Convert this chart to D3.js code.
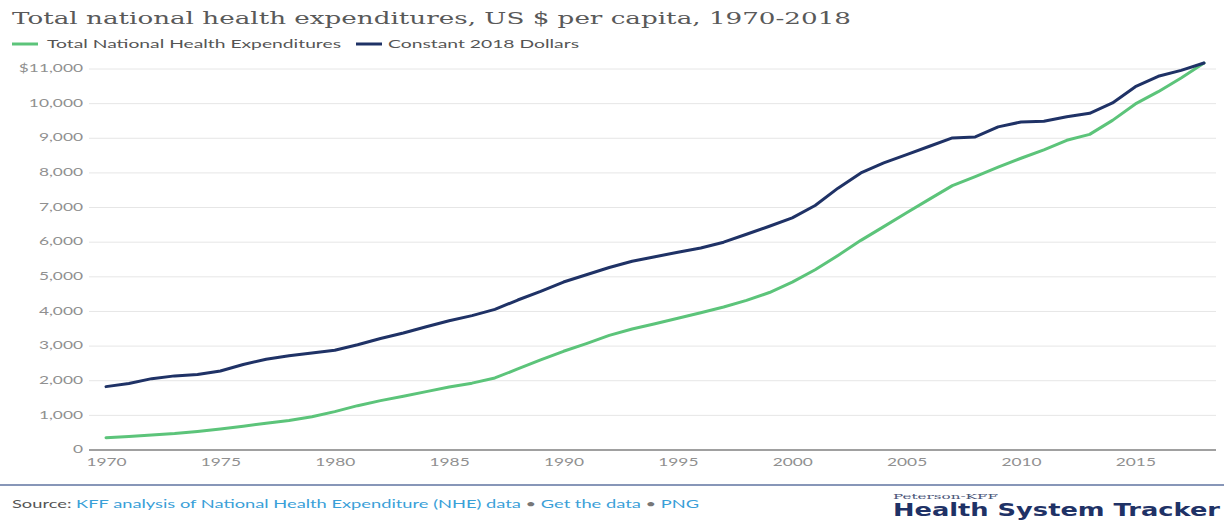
<!DOCTYPE html>
<html>
<head>
<meta charset="utf-8">
<script src="https://cdn.jsdelivr.net/npm/d3@7"></script>
<style>
  html, body { margin: 0; padding: 0; background: #ffffff; }
  svg { display: block; }
</style>
</head>
<body>
<svg id="chart" width="1224" height="521"></svg>
<script>
// Per-capita national health expenditures, 1970-2018
const years = d3.range(1970, 2019);
const nominal = [
  355, 389, 431, 474, 534, 605, 687, 772, 854, 958,
  1108, 1280, 1425, 1553, 1686, 1820, 1930, 2080, 2340, 2600,
  2850, 3072, 3308, 3494, 3647, 3806, 3964, 4127, 4320, 4546,
  4845, 5203, 5618, 6053, 6449, 6848, 7243, 7632, 7894, 8164,
  8423, 8667, 8942, 9113, 9516, 9992, 10345, 10739, 11172
];
const constant2018 = [
  1830, 1920, 2060, 2140, 2180, 2280, 2470, 2620, 2720, 2800,
  2880, 3040, 3220, 3380, 3560, 3730, 3880, 4060, 4330, 4580,
  4850, 5060, 5270, 5450, 5580, 5710, 5830, 6000, 6230, 6460,
  6700, 7060, 7560, 8000, 8290, 8530, 8770, 9010, 9040, 9330,
  9470, 9490, 9620, 9720, 10020, 10490, 10790, 10960, 11172
];
const seriesNames = ["Total National Health Expenditures", "Constant 2018 Dollars"];
const seriesColors = ["#5cc47a", "#1f3266"];
const yTicks = [0, 1000, 2000, 3000, 4000, 5000, 6000, 7000, 8000, 9000, 10000, 11000];
const xTicks = [1970, 1975, 1980, 1985, 1990, 1995, 2000, 2005, 2010, 2015];

const svg = d3.select("#chart");
const SANS = "Lato, 'Open Sans', sans-serif";
const STRETCH = 1.65;

const x = d3.scaleLinear().domain([1970, 2018]).range([106, 1204]);
const y = d3.scaleLinear().domain([0, 11000]).range([450, 69]);
const gridLeft = 89, gridRight = 1216;

// Title
svg.append("text")
  .attr("x", 12).attr("y", 24)
  .attr("font-family", "'DejaVu Serif', serif")
  .attr("font-size", 17)
  .attr("fill", "#595959")
  .attr("textLength", 839)
  .attr("lengthAdjust", "spacingAndGlyphs")
  .text("Total national health expenditures, US $ per capita, 1970-2018");

// Legend
const legendItems = [
  { name: seriesNames[0], color: seriesColors[0], sx: 12, tx: 47, tw: 294 },
  { name: seriesNames[1], color: seriesColors[1], sx: 356, tx: 388, tw: 191 }
];
legendItems.forEach(d => {
  svg.append("line")
    .attr("x1", d.sx).attr("x2", d.sx + 26)
    .attr("y1", 44).attr("y2", 44)
    .attr("stroke", d.color).attr("stroke-width", 3);
  svg.append("text")
    .attr("x", d.tx).attr("y", 48)
    .attr("font-family", SANS).attr("font-size", 11.5)
    .attr("fill", "#555555")
    .attr("textLength", d.tw)
    .attr("lengthAdjust", "spacingAndGlyphs")
    .text(d.name);
});

// Horizontal gridlines
svg.append("g")
  .selectAll("line")
  .data(yTicks.filter(v => v > 0))
  .join("line")
  .attr("x1", gridLeft).attr("x2", gridRight)
  .attr("y1", d => y(d)).attr("y2", d => y(d))
  .attr("stroke", "#e6e6e6").attr("stroke-width", 1);

// Y axis labels
const yAxis = svg.append("g")
  .attr("transform", `translate(${gridLeft},0)`)
  .call(d3.axisLeft(y).tickValues(yTicks).tickSize(0).tickPadding(0)
    .tickFormat(d => d === 11000 ? "$11,000" : d3.format(",")(d)));
yAxis.select(".domain").remove();
yAxis.selectAll("text")
  .attr("x", null).attr("dy", null)
  .attr("font-family", SANS).attr("font-size", 10.5)
  .attr("fill", "#909090")
  .attr("dominant-baseline", "middle")
  .attr("transform", `translate(-6,0) scale(${STRETCH},1)`);

// X axis
const xAxis = svg.append("g")
  .attr("transform", `translate(0,${y(0)})`)
  .call(d3.axisBottom(x).tickValues(xTicks).tickSize(0).tickPadding(0)
    .tickFormat(d3.format("d")));
xAxis.select(".domain").remove();
xAxis.selectAll("text")
  .attr("y", null).attr("dy", null)
  .attr("font-family", SANS).attr("font-size", 10.5)
  .attr("fill", "#909090")
  .attr("transform", `translate(0,16) scale(${STRETCH},1)`);
svg.append("line")
  .attr("x1", gridLeft).attr("x2", gridRight)
  .attr("y1", y(0)).attr("y2", y(0))
  .attr("stroke", "#a0a0a0").attr("stroke-width", 2);

// Series lines
const line = d3.line()
  .x((d, i) => x(years[i]))
  .y(d => y(d))
  .curve(d3.curveLinear);

[nominal, constant2018].forEach((vals, i) => {
  svg.append("path")
    .datum(vals)
    .attr("fill", "none")
    .attr("stroke", seriesColors[i])
    .attr("stroke-width", 3)
    .attr("stroke-linejoin", "round")
    .attr("stroke-linecap", "round")
    .attr("d", line);
});

// Footer rule
svg.append("line")
  .attr("x1", 0).attr("x2", 1224)
  .attr("y1", 485).attr("y2", 485)
  .attr("stroke", "#8796b8").attr("stroke-width", 2);

// Source line
const src = svg.append("text")
  .attr("x", 12).attr("y", 508)
  .attr("font-family", SANS).attr("font-size", 11.5)
  .attr("textLength", 687)
  .attr("lengthAdjust", "spacingAndGlyphs");
src.append("tspan").attr("fill", "#555555").text("Source: ");
src.append("tspan").attr("fill", "#3aa0d8").text("KFF analysis of National Health Expenditure (NHE) data");
src.append("tspan").attr("fill", "#777777").text(" • ");
src.append("tspan").attr("fill", "#3aa0d8").text("Get the data");
src.append("tspan").attr("fill", "#777777").text(" • ");
src.append("tspan").attr("fill", "#3aa0d8").text("PNG");

// Branding
svg.append("text")
  .attr("x", 893).attr("y", 499)
  .attr("font-family", "'DejaVu Serif', serif")
  .attr("font-size", 8)
  .attr("fill", "#4a5578")
  .attr("textLength", 105)
  .attr("lengthAdjust", "spacingAndGlyphs")
  .text("Peterson-KFF");
svg.append("text")
  .attr("x", 893).attr("y", 516)
  .attr("font-family", "'DejaVu Sans', sans-serif")
  .attr("font-weight", "bold")
  .attr("font-size", 17)
  .attr("fill", "#1f3266")
  .attr("textLength", 327)
  .attr("lengthAdjust", "spacingAndGlyphs")
  .text("Health System Tracker");
</script>
</body>
</html>
